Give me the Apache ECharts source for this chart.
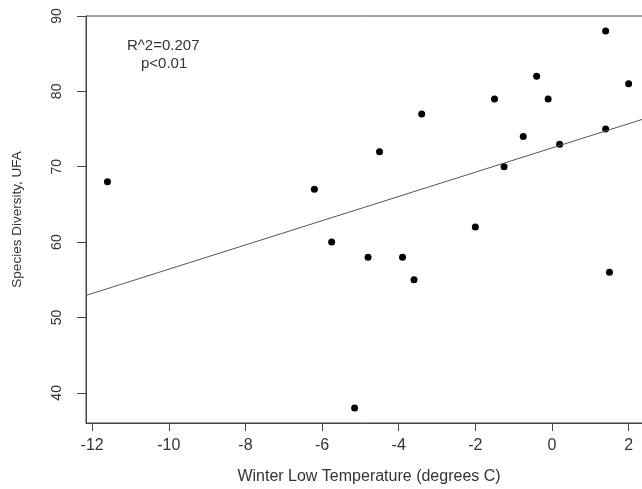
<!DOCTYPE html>
<html>
<head>
<meta charset="utf-8">
<script src="https://cdn.jsdelivr.net/npm/echarts@6/dist/echarts.min.js"></script>
<style>
  html, body { margin: 0; padding: 0; background: #fff; }
  #chart { width: 642px; height: 489px; }
</style>
</head>
<body>
<div id="chart"></div>
<script>
// winter low temperature (deg C) and species diversity
const temperature = [-11.6, -6.2, -5.75, -4.8, -4.5, -3.9, -3.6, -3.4, -5.15, -2.0,
                     -1.5, -1.25, -0.75, -0.4, -0.1, 0.2, 1.4, 1.4, 1.5, 2.0];
const diversity = [68, 67, 60, 58, 72, 58, 55, 77, 38, 62,
                   79, 70, 74, 82, 79, 73, 88, 75, 56, 81];
const xTicks = [-12, -10, -8, -6, -4, -2, 0, 2];
const yTicks = [40, 50, 60, 70, 80, 90];
const statLines = ['R^2=0.207', 'p<0.01'];

const X_MIN = -12.16, X_MAX = 2.61;
const Y_MIN = 36, Y_MAX = 90;

// least squares fit, drawn across the whole plot like abline()
const n = temperature.length;
const mx = temperature.reduce((a, b) => a + b, 0) / n;
const my = diversity.reduce((a, b) => a + b, 0) / n;
let sxy = 0, sxx = 0;
for (let i = 0; i < n; i++) {
    sxy += (temperature[i] - mx) * (diversity[i] - my);
    sxx += (temperature[i] - mx) * (temperature[i] - mx);
}
const slope = sxy / sxx;
const intercept = my - slope * mx;
const fitLine = [X_MIN, X_MAX].map(x => [x, intercept + slope * x]);

const points = temperature.map((t, i) => [t, diversity[i]]);

const textColor = '#333';
const lineColor = '#444';

const chart = echarts.init(document.getElementById('chart'));
chart.setOption({
    animation: false,
    grid: {
        left: 86,
        top: 16,
        bottom: 66,
        right: -10,
        show: true,
        borderColor: lineColor,
        borderWidth: 1,
        containLabel: false,
        outerBoundsMode: 'none'
    },
    xAxis: {
        type: 'value',
        min: X_MIN,
        max: X_MAX,
        name: 'Winter Low Temperature (degrees C)',
        nameLocation: 'middle',
        nameGap: 46,
        nameTextStyle: { color: textColor, fontSize: 16, fontFamily: 'Liberation Sans' },
        axisLine: { show: true, onZero: false, lineStyle: { color: lineColor } },
        axisTick: {
            show: true,
            inside: false,
            length: 8,
            customValues: xTicks,
            lineStyle: { color: lineColor }
        },
        axisLabel: {
            customValues: xTicks,
            margin: 15,
            color: textColor,
            fontSize: 16,
            fontFamily: 'Liberation Sans'
        },
        splitLine: { show: false }
    },
    yAxis: {
        type: 'value',
        min: Y_MIN,
        max: Y_MAX,
        name: 'Species Diversity, UFA',
        nameLocation: 'middle',
        nameGap: 62,
        nameRotate: 90,
        nameTextStyle: { color: textColor, fontSize: 13.5, fontFamily: 'Liberation Sans' },
        axisLine: { show: true, onZero: false, lineStyle: { color: lineColor } },
        axisTick: {
            show: true,
            inside: false,
            length: 9,
            customValues: yTicks,
            lineStyle: { color: lineColor }
        },
        axisLabel: {
            customValues: yTicks,
            rotate: 90,
            margin: 22,
            color: textColor,
            fontSize: 14,
            fontFamily: 'Liberation Sans'
        },
        splitLine: { show: false }
    },
    graphic: [
        {
            type: 'text',
            left: 127,
            top: 38,
            style: { text: statLines[0], fill: textColor, fontSize: 15, fontFamily: 'Liberation Sans' }
        },
        {
            type: 'text',
            left: 141,
            top: 56,
            style: { text: statLines[1], fill: textColor, fontSize: 15, fontFamily: 'Liberation Sans' }
        }
    ],
    series: [
        {
            type: 'line',
            data: fitLine,
            symbol: 'none',
            lineStyle: { color: '#555', width: 1 },
            silent: true
        },
        {
            type: 'scatter',
            data: points,
            symbol: 'circle',
            symbolSize: 7,
            itemStyle: { color: '#000', opacity: 1 }
        }
    ]
});
</script>
</body>
</html>
